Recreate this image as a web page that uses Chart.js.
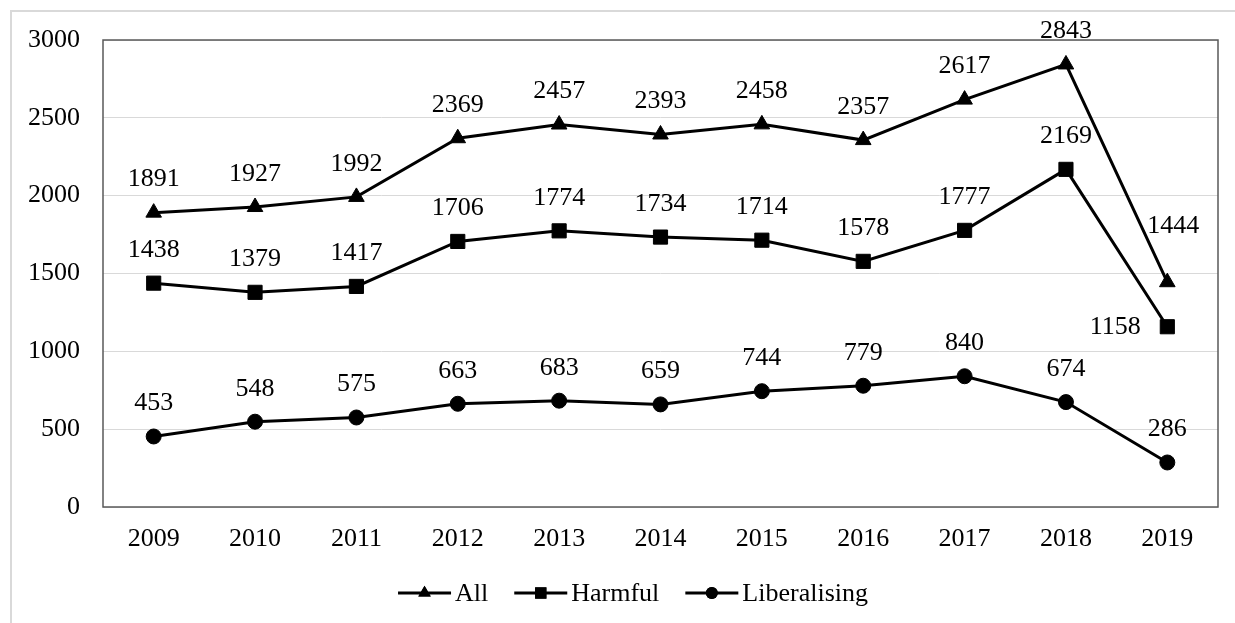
<!DOCTYPE html>
<html>
<head>
<meta charset="utf-8">
<script src="https://cdn.jsdelivr.net/npm/chart.js@4"></script>
<style>
  html, body { margin: 0; padding: 0; background: #fff; }
  canvas { display: block; }
</style>
</head>
<body>
<canvas id="chart" width="1235" height="623"></canvas>
<script>
const years = ["2009","2010","2011","2012","2013","2014","2015","2016","2017","2018","2019"]
const all_values = [1891,1927,1992,2369,2457,2393,2458,2357,2617,2843,1444]
const harmful_values = [1438,1379,1417,1706,1774,1734,1714,1578,1777,2169,1158]
const liberalising_values = [453,548,575,663,683,659,744,779,840,674,286]
const y_ticks = [0,500,1000,1500,2000,2500,3000]

const FONT = "'Liberation Serif', 'Times New Roman', serif"
const FONT_SIZE = 26

// label offsets (dx, dy) for points whose label is not straight above
function labelOffset(ds, i){
    if(ds === 0 && i === 10) return [6, -56]
    if(ds === 1 && i === 10) return [-52, 0]
    return [0, -33]
}

const frame = {
    id: "frame",
    beforeDraw(chart){
        const c = chart.ctx
        c.save()
        c.strokeStyle = "#d9d9d9"
        c.lineWidth = 2
        c.beginPath()
        c.moveTo(11, 623); c.lineTo(11, 11); c.lineTo(1235, 11)
        c.stroke()
        c.restore()
    },
    beforeDatasetsDraw(chart){
        const a = chart.chartArea
        const c = chart.ctx
        c.save()
        c.strokeStyle = "#595959"
        c.lineWidth = 1.5
        c.strokeRect(a.left, a.top, a.right - a.left, a.bottom - a.top)
        c.restore()
    }
}

const labels = {
    id: "labels",
    afterDatasetsDraw(chart){
        const c = chart.ctx
        c.save()
        c.font = FONT_SIZE + "px " + FONT
        c.fillStyle = "#000"
        c.textAlign = "center"
        c.textBaseline = "middle"
        chart.data.datasets.forEach((ds, d) => {
            chart.getDatasetMeta(d).data.forEach((pt, i) => {
                const [dx, dy] = labelOffset(d, i)
                c.fillText(String(ds.data[i]), pt.x + dx, pt.y + dy)
            })
        })
        c.restore()
    }
}

const legend = {
    id: "customLegend",
    afterDraw(chart){
        const c = chart.ctx
        c.save()
        c.font = FONT_SIZE + "px " + FONT
        c.textBaseline = "middle"
        const lineLen = 53, gap = 4, itemGap = 26
        const items = chart.data.datasets.map(ds => ({ds, w: lineLen + gap + c.measureText(ds.label).width}))
        const total = items.reduce((s, it) => s + it.w, 0) + itemGap * (items.length - 1)
        let x = 633 - total / 2
        const y = 593
        items.forEach(it => {
            c.strokeStyle = "#000"
            c.lineWidth = 3
            c.beginPath(); c.moveTo(x, y); c.lineTo(x + lineLen, y); c.stroke()
            c.fillStyle = "#000"
            Chart.helpers.drawPoint(c, {pointStyle: it.ds.pointStyle, radius: it.ds.pointRadius * 0.8, borderWidth: 0}, x + lineLen / 2, y)
            c.fill()
            c.fillStyle = "#000"
            c.fillText(it.ds.label, x + lineLen + gap, y + 1)
            x += it.w + itemGap
        })
        c.restore()
    }
}

function series(label, data, style, radius){
    return {
        label: label,
        data: data,
        borderColor: "#000",
        backgroundColor: "#000",
        borderWidth: 3,
        pointStyle: style,
        pointRadius: radius,
        pointHoverRadius: radius,
        pointBackgroundColor: "#000",
        pointBorderColor: "#000",
        pointBorderWidth: 1,
        tension: 0,
        fill: false
    }
}

new Chart(document.getElementById("chart").getContext("2d"), {
    type: "line",
    data: {
        labels: years,
        datasets: [
            series("All", all_values, "triangle", 9),
            series("Harmful", harmful_values, "rect", 10),
            series("Liberalising", liberalising_values, "circle", 7.5)
        ]
    },
    options: {
        responsive: false,
        animation: false,
        devicePixelRatio: 1,
        layout: { padding: { top: 40, right: 17, left: 0, bottom: 0 } },
        plugins: {
            legend: { display: false },
            tooltip: { enabled: false }
        },
        scales: {
            x: {
                offset: true,
                grid: { display: false, drawTicks: false, offset: true },
                border: { display: false },
                ticks: { color: "#000", font: { family: FONT, size: FONT_SIZE }, padding: 17 },
                afterFit: s => { s.height = 116 }
            },
            y: {
                min: 0,
                max: 3000,
                afterBuildTicks: s => { s.ticks = y_ticks.map(v => ({value: v})) },
                grid: { color: "#d9d9d9", lineWidth: 1, drawTicks: false },
                border: { display: false },
                ticks: { color: "#000", font: { family: FONT, size: FONT_SIZE }, padding: 23, callback: v => String(v) },
                afterFit: s => { s.width = 103 }
            }
        }
    },
    plugins: [frame, labels, legend]
})
</script>
</body>
</html>
